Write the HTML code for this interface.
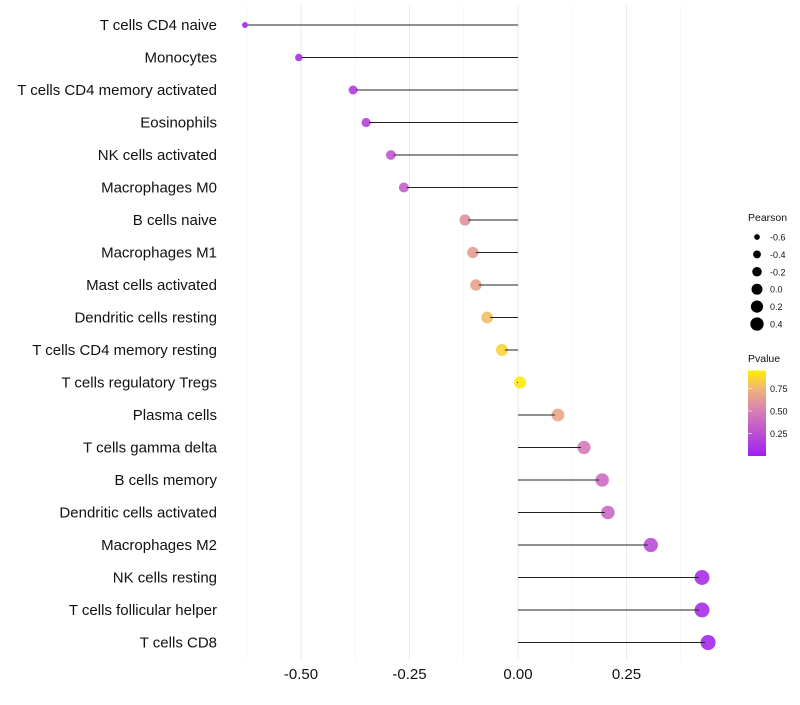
<!DOCTYPE html>
<html><head><meta charset="utf-8"><style>
body{margin:0;background:#fff;font-family:"Liberation Sans",sans-serif}
</style></head><body>
<svg width="800" height="700" xmlns="http://www.w3.org/2000/svg">
<defs><linearGradient id="pg" x1="0" y1="1" x2="0" y2="0">
<stop offset="0" stop-color="#A020F0"/><stop offset="0.5" stop-color="#D47AB8"/><stop offset="0.78" stop-color="#F0B27A"/><stop offset="1" stop-color="#FFF000"/>
</linearGradient></defs>
<g id="grid"></g><g id="points"></g><g id="marks"></g><g id="labels"></g><g id="legend"></g>
</svg>
<script>
const categories=["T cells CD4 naive","Monocytes","T cells CD4 memory activated","Eosinophils","NK cells activated","Macrophages M0","B cells naive","Macrophages M1","Mast cells activated","Dendritic cells resting","T cells CD4 memory resting","T cells regulatory  Tregs","Plasma cells","T cells gamma delta","B cells memory","Dendritic cells activated","Macrophages M2","NK cells resting","T cells follicular helper","T cells CD8"];
const pearson=[-0.629,-0.505,-0.380,-0.350,-0.293,-0.263,-0.122,-0.104,-0.097,-0.071,-0.037,0.005,0.092,0.152,0.194,0.207,0.306,0.424,0.424,0.438];
const pvalue=[0.03,0.08,0.15,0.2,0.3,0.35,0.62,0.67,0.7,0.82,0.9,0.97,0.72,0.5,0.42,0.4,0.25,0.08,0.08,0.05];
const xTicks=[-0.5,-0.25,0,0.25];
const xTickLabels=["-0.50","-0.25","0.00","0.25"];
const sizeLegend=[-0.6,-0.4,-0.2,0.0,0.2,0.4];
const sizeLegendLabels=["-0.6","-0.4","-0.2","0.0","0.2","0.4"];
const pTicks=[0.25,0.5,0.75];
const pTickLabels=["0.25","0.50","0.75"];
const NS="http://www.w3.org/2000/svg";
const X=v=>518+v*434;
const Y=i=>25+i*32.5;
const R=v=>Math.sqrt(Math.max(4.5,37+45*v));
function mk(p,t,a){const e=document.createElementNS(NS,t);for(const k in a)e.setAttribute(k,a[k]);p.appendChild(e);return e;}
function lerp(a,b,t){return a.map((x,i)=>Math.round(x+(b[i]-x)*t));}
function col(p){const s=[[0,[160,32,240]],[0.5,[212,122,184]],[0.78,[240,178,122]],[1,[255,240,0]]];
for(let i=0;i<s.length-1;i++){if(p<=s[i+1][0]){const c=lerp(s[i][1],s[i+1][1],(p-s[i][0])/(s[i+1][0]-s[i][0]));return `rgb(${c})`;}}return "rgb(255,240,0)";}
const grid=document.getElementById('grid'),pts=document.getElementById('points'),marks=document.getElementById('marks'),labels=document.getElementById('labels'),leg=document.getElementById('legend');
[-0.625,-0.375,-0.125,0.125,0.375].forEach(v=>{const l=mk(grid,'line',{x1:X(v),x2:X(v),y1:5,y2:660,stroke:'#f3f3f3','stroke-width':0.6});

});
xTicks.forEach((v,i)=>{const l=mk(grid,'line',{x1:X(v),x2:X(v),y1:5,y2:660,stroke:'#ebebeb','stroke-width':1});


const t=mk(labels,'text',{x:X(v),y:679,'text-anchor':'middle','font-size':15,fill:'#111'});t.textContent=xTickLabels[i];

});
categories.forEach((c,i)=>{const y=Y(i),v=pearson[i];const sg=v<0?-1:1;
const p=mk(pts,'circle',{cx:X(v),cy:y,r:R(v),fill:col(pvalue[i]),'fill-opacity':0.9});


const s=mk(marks,'line',{x1:X(0),x2:X(v)-sg*3,y1:y,y2:y,stroke:'#222','stroke-width':1});


const t=mk(labels,'text',{x:217,y:y+5,'text-anchor':'end','font-size':15,fill:'#111'});t.textContent=c;

});
const lt=mk(leg,'text',{x:748,y:221,'font-size':10.5,fill:'#111'});lt.textContent='Pearson';


sizeLegend.forEach((v,i)=>{const y=237+i*17.4;
const c=mk(leg,'circle',{cx:757,cy:y,r:R(v)*0.9,fill:'#000'});


const t=mk(leg,'text',{x:770,y:y+3.5,'font-size':9,fill:'#111'});t.textContent=sizeLegendLabels[i];

});
const pt=mk(leg,'text',{x:748,y:362,'font-size':10.5,fill:'#111'});pt.textContent='Pvalue';


const PY=v=>456-v*90;
const bar=mk(leg,'rect',{x:748,y:PY(0.95),width:18,height:PY(0)-PY(0.95),fill:'url(#pg)'});


pTicks.forEach((v,i)=>{const t=mk(leg,'text',{x:770,y:PY(v)+3.5,'font-size':9,fill:'#111'});t.textContent=pTickLabels[i];


const tk=mk(leg,'line',{x1:748,x2:752,y1:PY(v),y2:PY(v),stroke:'#fff','stroke-width':0.6});

});
</script>
</body></html>
